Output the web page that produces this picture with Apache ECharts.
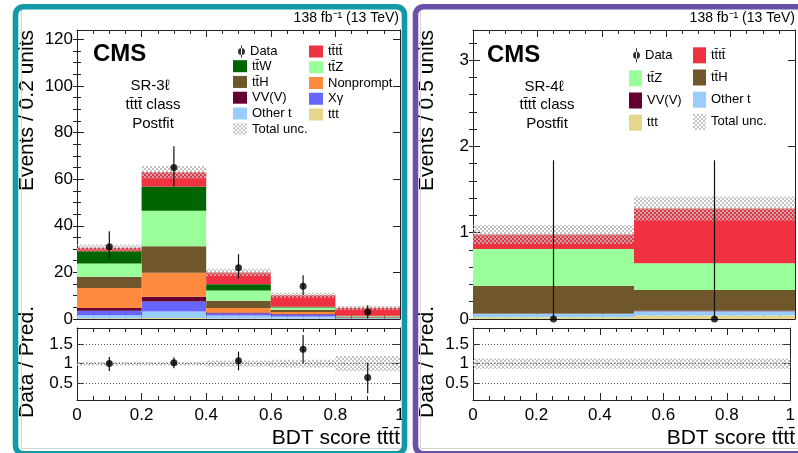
<!DOCTYPE html>
<html>
<head>
<meta charset="utf-8">
<title>BDT score tttt</title>
<script src="https://cdn.jsdelivr.net/npm/echarts@6.0.0/dist/echarts.min.js"></script>
<style>
  html, body { margin: 0; padding: 0; background: #fff; }
  #chart { width: 798px; height: 453px; }
</style>
</head>
<body>
<div id="chart"></div>
<script>
const OV = '\u0304';
const TT = 'tt' + OV;
const TTTT = TT + TT;
const FONT = '"Liberation Sans", Arial, Helvetica, sans-serif';
const AXIS_COLOR = '#222';

// ---- SR-3l (left panel), bin contents per process ----
const binsL = [0, 0.2, 0.4, 0.6, 0.8, 1.0];
const tttL       = [0.3, 0.4, 0.2, 0.1, 0.15];
const otherTL    = [1.3, 2.8, 1.3, 1.0, 0.2];
const xgammaL    = [1.9, 4.3, 0.9, 0.8, 0.1];
const vvvL       = [1.2, 2.1, 0.4, 0.2, 0.05];
const nonpromptL = [8.6, 10.2, 1.9, 0.9, 0.1];
const ttHL       = [4.8, 11.4, 3.1, 1.0, 0.5];
const ttZL       = [5.7, 15.3, 4.4, 0.9, 0.2];
const ttWL       = [5.3, 10.4, 2.7, 0.4, 0.1];
const ttttL      = [1.5, 6.1, 5.1, 4.9, 3.4];
const totUncL    = [1.3, 2.7, 1.6, 1.1, 0.9];
const dataL      = [31, 65, 22, 14, 3];
const dataErrLoL = [5.5, 8.0, 4.6, 3.7, 2.6];
const dataErrHiL = [6.6, 9.1, 5.8, 4.8, 2.9];
const ratioL      = [1.0, 1.02, 1.07, 1.36, 0.65];
const ratioErrLoL = [0.19, 0.14, 0.24, 0.36, 0.40];
const ratioErrHiL = [0.17, 0.14, 0.23, 0.36, 0.37];
const ratioUncL   = [0.05, 0.05, 0.08, 0.10, 0.19];

// ---- SR-4l (right panel) ----
const binsR = [0, 0.5, 1.0];
const tttR    = [0.02, 0.04];
const otherTR = [0.04, 0.05];
const vvvR    = [0.005, 0.005];
const ttHR    = [0.32, 0.24];
const ttZR    = [0.425, 0.31];
const ttttR   = [0.17, 0.635];
const totUncR = [0.11, 0.14];
const dataR      = [0, 0];
const dataErrLoR = [0, 0];
const dataErrHiR = [1.84, 1.84];
const ratioUncR  = [0.13, 0.13];

// ---- axes ticks ----
const yTicksL = [0, 20, 40, 60, 80, 100, 120];
const yMinorStepL = 5;
const yMaxL = 124;
const yTicksR = [0, 1, 2, 3];
const yMinorStepR = 0.2;
const yMaxR = 3.35;
const ratioTicks = [0.5, 1, 1.5];
const ratioMin = 0.08, ratioMax = 1.9;

const COLORS = {
  ttt: '#e6d68b', other: '#99ccff', xg: '#6666ff', vvv: '#660033',
  np: '#ff8a3d', ttH: '#70572b', ttZ: '#99ff99', ttW: '#006400', tttt: '#ef3142'
};

function hatchCanvas() {
  const c = document.createElement('canvas');
  c.width = 4; c.height = 4;
  const g = c.getContext('2d');
  g.fillStyle = 'rgba(185,185,185,0.85)';
  g.fillRect(0, 0, 2, 2);
  g.fillRect(2, 2, 2, 2);
  return c;
}
const HATCH = { image: hatchCanvas(), repeat: 'repeat' };

function minorList(max, step) {
  const out = [];
  for (let k = 0; k * step <= max + 1e-9; k++) out.push(Math.round(k * step * 1000) / 1000);
  return out;
}

function xAxes(grid, labels) {
  const base = {
    type: 'value', gridIndex: grid, min: 0, max: 1, interval: 0.2,
    axisLine: { show: true, onZero: false, lineStyle: { color: AXIS_COLOR, width: 1 } },
    axisTick: { show: true, inside: true, length: 7, lineStyle: { color: AXIS_COLOR } },
    minorTick: { show: true, splitNumber: 4, length: 4, lineStyle: { color: AXIS_COLOR } },
    splitLine: { show: false }, minorSplitLine: { show: false }
  };
  return [
    Object.assign({}, base, { position: 'bottom',
      axisLabel: { show: labels, margin: 7, fontSize: 17, color: '#000', fontFamily: FONT } }),
    Object.assign({}, base, { position: 'top', axisLabel: { show: false } })
  ];
}

function yAxes(grid, min, max, majors, minors) {
  const line = { show: true, onZero: false, lineStyle: { color: AXIS_COLOR, width: 1 } };
  const common = { type: 'value', gridIndex: grid, min: min, max: max, splitLine: { show: false } };
  const hasMinor = minors.length > 0;
  return [
    Object.assign({}, common, { position: 'left', axisLine: line,
      axisLabel: { show: true, customValues: majors, margin: 4, fontSize: 17, color: '#000', fontFamily: FONT },
      axisTick: { show: true, inside: true, length: 7, customValues: majors, lineStyle: { color: AXIS_COLOR } } }),
    Object.assign({}, common, { position: 'left', axisLine: { show: false }, axisLabel: { show: false },
      axisTick: { show: hasMinor, inside: true, length: 4, customValues: minors, lineStyle: { color: AXIS_COLOR } } }),
    Object.assign({}, common, { position: 'right', axisLine: line, axisLabel: { show: false },
      axisTick: { show: true, inside: true, length: 7, customValues: majors, lineStyle: { color: AXIS_COLOR } } }),
    Object.assign({}, common, { position: 'right', axisLine: { show: false }, axisLabel: { show: false },
      axisTick: { show: hasMinor, inside: true, length: 4, customValues: minors, lineStyle: { color: AXIS_COLOR } } })
  ];
}

function clipTo(params, rect) {
  const cs = params.coordSys;
  return echarts.graphic.clipRectByRect(rect, { x: cs.x, y: cs.y, width: cs.width, height: cs.height });
}

function renderBox(fill) {
  return function (params, api) {
    const p0 = api.coord([api.value(0), api.value(3)]);
    const p1 = api.coord([api.value(1), api.value(2)]);
    const shape = clipTo(params, { x: p0[0], y: p0[1], width: p1[0] - p0[0], height: p1[1] - p0[1] });
    return shape && { type: 'rect', shape: shape, style: { fill: fill } };
  };
}

function renderErr(params, api) {
  const x = api.value(0), y = api.value(1);
  const top = api.coord([x, y + api.value(3)]);
  const bot = api.coord([x, y - api.value(2)]);
  const cs = params.coordSys;
  return { type: 'line',
    shape: { x1: top[0], y1: Math.max(top[1], cs.y), x2: top[0], y2: Math.min(bot[1], cs.y + cs.height) },
    style: { stroke: '#111', lineWidth: 1.2 } };
}

function panelSeries(bins, procs, unc, data, errLo, errHi, ratio, rErrLo, rErrHi, rUnc, gMain, gRatio) {
  const out = [];
  const nb = bins.length - 1;
  const base = new Array(nb).fill(0);
  const xMain = gMain * 2, yMain = gMain * 4;
  const xRat = gRatio * 2, yRat = gRatio * 4;
  procs.forEach(function (p) {
    const d = [];
    for (let i = 0; i < nb; i++) {
      d.push([bins[i], bins[i + 1], base[i], base[i] + p.vals[i]]);
      base[i] += p.vals[i];
    }
    out.push({ type: 'custom', name: p.name, xAxisIndex: xMain, yAxisIndex: yMain, z: 2,
      itemStyle: { color: p.color }, renderItem: renderBox(p.color), data: d });
  });
  const uncData = [], centers = [];
  for (let i = 0; i < nb; i++) {
    uncData.push([bins[i], bins[i + 1], base[i] - unc[i], base[i] + unc[i]]);
    centers.push((bins[i] + bins[i + 1]) / 2);
  }
  out.push({ type: 'custom', name: 'Total unc.', xAxisIndex: xMain, yAxisIndex: yMain, z: 3,
    itemStyle: { color: HATCH }, renderItem: renderBox(HATCH), data: uncData });
  out.push({ type: 'custom', name: 'data err', xAxisIndex: xMain, yAxisIndex: yMain, z: 4,
    renderItem: renderErr, data: centers.map(function (c, i) { return [c, data[i], errLo[i], errHi[i]]; }) });
  out.push({ type: 'scatter', name: 'Data', xAxisIndex: xMain, yAxisIndex: yMain, z: 5,
    symbolSize: 7, itemStyle: { color: '#000' },
    data: centers.map(function (c, i) { return [c, data[i]]; }) });

  // ratio panel
  out.push({ type: 'custom', name: 'ratio unc', xAxisIndex: xRat, yAxisIndex: yRat, z: 3,
    renderItem: renderBox(HATCH),
    data: rUnc.map(function (u, i) { return [bins[i], bins[i + 1], 1 - u, 1 + u]; }),
    markLine: { silent: true, symbol: 'none', animation: false, label: { show: false },
      lineStyle: { type: [1, 2], color: '#555', width: 1 },
      data: ratioTicks.map(function (v) { return { yAxis: v }; }) } });
  if (ratio) {
    out.push({ type: 'custom', name: 'ratio err', xAxisIndex: xRat, yAxisIndex: yRat, z: 4,
      renderItem: renderErr, data: centers.map(function (c, i) { return [c, ratio[i], rErrLo[i], rErrHi[i]]; }) });
    out.push({ type: 'scatter', name: 'ratio', xAxisIndex: xRat, yAxisIndex: yRat, z: 5,
      symbolSize: 7, itemStyle: { color: '#000' },
      data: centers.map(function (c, i) { return [c, ratio[i]]; }) });
  }
  return out;
}

const procsL = [
  { name: 'ttt', vals: tttL, color: COLORS.ttt },
  { name: 'Other t', vals: otherTL, color: COLORS.other },
  { name: 'X\u03b3', vals: xgammaL, color: COLORS.xg },
  { name: 'VV(V)', vals: vvvL, color: COLORS.vvv },
  { name: 'Nonprompt', vals: nonpromptL, color: COLORS.np },
  { name: TT + 'H', vals: ttHL, color: COLORS.ttH },
  { name: TT + 'Z', vals: ttZL, color: COLORS.ttZ },
  { name: TT + 'W', vals: ttWL, color: COLORS.ttW },
  { name: TTTT, vals: ttttL, color: COLORS.tttt }
];
const procsR = [
  { name: 'ttt', vals: tttR, color: COLORS.ttt },
  { name: 'Other t', vals: otherTR, color: COLORS.other },
  { name: 'VV(V)', vals: vvvR, color: COLORS.vvv },
  { name: TT + 'H', vals: ttHR, color: COLORS.ttH },
  { name: TT + 'Z', vals: ttZR, color: COLORS.ttZ },
  { name: TTTT, vals: ttttR, color: COLORS.tttt }
];

function legendBox(names, left, top, w, h, gap, icon) {
  return { show: true, orient: 'vertical', left: left, top: top, padding: 0,
    itemWidth: w, itemHeight: h, itemGap: gap, selectedMode: false, icon: icon || 'rect',
    itemStyle: { borderWidth: 0 },
    textStyle: { fontSize: 13, fontFamily: FONT, color: '#000', lineHeight: h },
    data: names };
}

const dotIconL = 'path://M3 0H4V12H3Z M0 6A3.5 3.5 0 1 0 7 6A3.5 3.5 0 1 0 0 6Z';
const dotIconR = 'path://M3 0H4V14H3Z M0 7A3.5 3.5 0 1 0 7 7A3.5 3.5 0 1 0 0 7Z';

function txt(x, y, text, size, opts) {
  return { type: 'text', x: x, y: y, z: 50, rotation: (opts && opts.rot) || 0,
    style: { text: text, fontSize: size, fontFamily: FONT, fontWeight: (opts && opts.bold) ? 'bold' : 'normal',
      fill: '#000', align: (opts && opts.align) || 'left', verticalAlign: 'middle' } };
}

const option = {
  animation: false,
  backgroundColor: '#fff',
  grid: [
    { left: 77, top: 30, width: 323, height: 289 },
    { left: 77, top: 328, width: 323, height: 72 },
    { left: 473, top: 30, width: 322, height: 289 },
    { left: 473, top: 328, width: 322, height: 72 }
  ],
  xAxis: [].concat(xAxes(0, false), xAxes(1, true), xAxes(2, false), xAxes(3, true)),
  yAxis: [].concat(
    yAxes(0, 0, yMaxL, yTicksL, minorList(yMaxL, yMinorStepL)),
    yAxes(1, ratioMin, ratioMax, ratioTicks, []),
    yAxes(2, 0, yMaxR, yTicksR, minorList(yMaxR, yMinorStepR)),
    yAxes(3, ratioMin, ratioMax, ratioTicks, [])
  ),
  legend: [
    legendBox([{ name: 'Data', icon: dotIconL }], 238, 45, 7, 12, 2.7),
    legendBox([TT + 'W', TT + 'H', 'VV(V)', 'Other t', 'Total unc.'], 233, 59.7, 14, 12, 2.75),
    legendBox([TTTT, TT + 'Z', 'Nonprompt', 'X\u03b3', 'ttt'], 309, 45, 14, 12, 2.75),
    legendBox([{ name: 'Data', icon: dotIconR }], 633, 48.3, 7, 14, 8),
    legendBox([TT + 'Z', 'VV(V)', 'ttt'], 629, 70.3, 13, 16, 6.2),
    legendBox([TTTT, TT + 'H', 'Other t', 'Total unc.'], 693, 47.3, 13, 16, 6.2)
  ],
  series: [].concat(
    panelSeries(binsL, procsL, totUncL, dataL, dataErrLoL, dataErrHiL, ratioL, ratioErrLoL, ratioErrHiL, ratioUncL, 0, 1),
    panelSeries(binsR, procsR, totUncR, dataR, dataErrLoR, dataErrHiR, null, null, null, ratioUncR, 2, 3)
  ),
  graphic: [
    // texts, left panel
    txt(399, 18, '138 fb\u207b\u00b9 (13 TeV)', 14, { align: 'right' }),
    txt(93, 54, 'CMS', 24, { bold: true }),
    txt(150, 86, 'SR-3\u2113', 15, { align: 'center' }),
    txt(153, 104.5, TTTT + ' class', 15, { align: 'center' }),
    txt(153, 124, 'Postfit', 15, { align: 'center' }),
    txt(27, 30, 'Events / 0.2 units', 21, { align: 'right', rot: Math.PI / 2 }),
    txt(27, 362, 'Data / Pred.', 21, { align: 'center', rot: Math.PI / 2 }),
    txt(400, 438, 'BDT score ' + TTTT, 21, { align: 'right' }),
    // texts, right panel
    txt(795, 18, '138 fb\u207b\u00b9 (13 TeV)', 14, { align: 'right' }),
    txt(487, 55, 'CMS', 24, { bold: true }),
    txt(544, 87, 'SR-4\u2113', 15, { align: 'center' }),
    txt(547, 104.5, TTTT + ' class', 15, { align: 'center' }),
    txt(547, 124, 'Postfit', 15, { align: 'center' }),
    txt(427, 30, 'Events / 0.5 units', 21, { align: 'right', rot: Math.PI / 2 }),
    txt(427, 362, 'Data / Pred.', 21, { align: 'center', rot: Math.PI / 2 }),
    txt(795, 438, 'BDT score ' + TTTT, 21, { align: 'right' }),
    // faint inner canvas edges
    { type: 'line', z: 90, shape: { x1: 21.5, y1: 10, x2: 21.5, y2: 448 }, style: { stroke: '#d4d4d4', lineWidth: 1 } },
    { type: 'line', z: 90, shape: { x1: 21.5, y1: 448.5, x2: 402, y2: 448.5 }, style: { stroke: '#d4d4d4', lineWidth: 1 } },
    { type: 'line', z: 90, shape: { x1: 420.5, y1: 10, x2: 420.5, y2: 448 }, style: { stroke: '#d4d4d4', lineWidth: 1 } },
    { type: 'line', z: 90, shape: { x1: 420.5, y1: 448.5, x2: 798, y2: 448.5 }, style: { stroke: '#d4d4d4', lineWidth: 1 } },
    // coloured frames
    { type: 'rect', z: 100, shape: { x: 15.5, y: 6.7, width: 389, height: 447, r: 8 },
      style: { fill: 'none', stroke: '#1398a6', lineWidth: 5.6 } },
    { type: 'rect', z: 100, shape: { x: 415.5, y: 6.7, width: 390, height: 447, r: 8 },
      style: { fill: 'none', stroke: '#6a50a8', lineWidth: 5.6 } }
  ]
};

const chart = echarts.init(document.getElementById('chart'));
chart.setOption(option);
window.addEventListener('resize', function () { chart.resize(); });
</script>
</body>
</html>
